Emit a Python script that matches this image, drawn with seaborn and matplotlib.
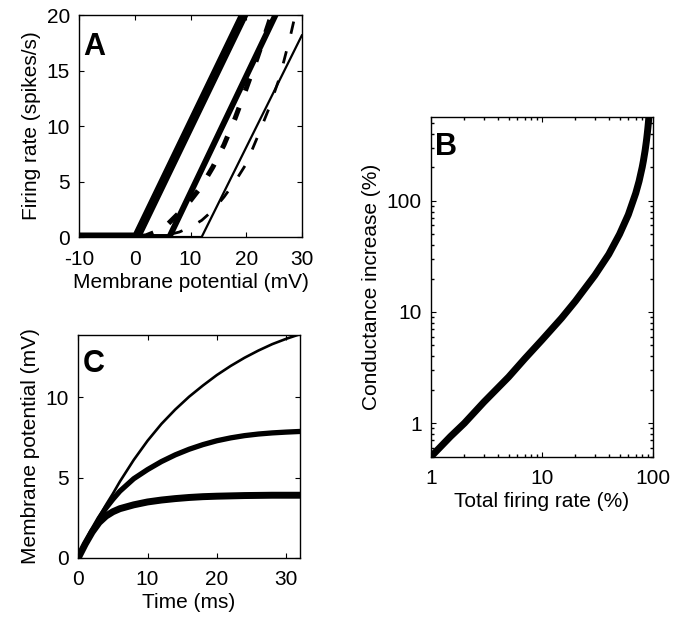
import numpy as np
import pandas as pd
import matplotlib
matplotlib.use("Agg")
import matplotlib.pyplot as plt
import seaborn as sns
from matplotlib.ticker import NullFormatter, LogLocator

sns.set_theme(style="ticks")
plt.rcParams['font.family'] = ['Liberation Sans', 'DejaVu Sans']
plt.rcParams.update({
    'xtick.direction': 'in', 'ytick.direction': 'in',
    'xtick.top': True, 'ytick.right': True,
    'xtick.major.size': 3.5, 'ytick.major.size': 3.5,
    'xtick.minor.size': 2, 'ytick.minor.size': 2,
    'xtick.major.width': 0.8, 'ytick.major.width': 0.8,
    'axes.linewidth': 1.0, 'axes.edgecolor': 'black',
    'xtick.color': 'black', 'ytick.color': 'black',
    'xtick.labelcolor': 'black', 'ytick.labelcolor': 'black',
    'text.color': 'black', 'axes.labelcolor': 'black',
    'axes.unicode_minus': False,
    'font.size': 15,
})

# ---------------- Panel A data ----------------
a_thick_v = [-10, 0.3, 30]
a_thick_r = [0, 0, 30.9]
a_med_v = [-10, 6.2, 30]
a_med_r = [0, 0, 25.0]
a_thin_v = [-10, 12.0, 30]
a_thin_r = [0, 0, 18.2]
a_dash_thick_v = [-10, 0, 2, 4, 6, 8, 10, 12, 14, 16, 18, 20, 22, 24, 25, 26]
a_dash_thick_r = [0, 0, 0.1, 0.5, 1.2, 2.2, 3.3, 4.6, 6.3, 8.3, 10.7, 13.4, 16.2, 19.2, 20.8, 22.4]
a_dash_thin_v = [-10, 0, 3, 6, 8, 10, 12, 14, 16, 18, 20, 22, 24, 26, 28, 29, 30]
a_dash_thin_r = [0, 0, 0.05, 0.2, 0.45, 0.9, 1.5, 2.4, 3.6, 5.0, 6.6, 9.0, 11.5, 14.4, 18.3, 20.5, 22.7]

# ---------------- Panel B data ----------------
b_rate = [1, 1.5, 2, 3, 5, 7, 10, 15, 20, 30, 40, 50, 60, 70, 75, 80, 82, 85, 87, 88, 89, 90, 91, 92]
b_cond = [0.5, 0.76, 1.0, 1.55, 2.6, 3.8, 5.6, 8.8, 12.5, 21.4, 33, 50, 75, 117, 150, 200, 228, 283, 335, 367, 405, 450, 505, 575]

# ---------------- Panel C data ----------------
c_t = [0, 1, 2, 3, 4, 5, 6, 8, 10, 12, 14, 16, 18, 20, 22, 24, 26, 28, 30, 32]
c_thin = [0, 0.9, 1.75, 2.55, 3.3, 4.0, 4.75, 6.1, 7.3, 8.35, 9.25, 10.05, 10.75, 11.4, 11.97, 12.48, 12.93, 13.33, 13.66, 13.95]
c_med = [0, 0.88, 1.7, 2.45, 3.1, 3.65, 4.15, 4.93, 5.5, 6.0, 6.42, 6.77, 7.06, 7.3, 7.48, 7.62, 7.72, 7.79, 7.84, 7.88]
c_thick = [0, 0.85, 1.6, 2.2, 2.6, 2.87, 3.06, 3.3, 3.48, 3.6, 3.69, 3.76, 3.81, 3.84, 3.86, 3.88, 3.89, 3.9, 3.9, 3.9]

fig = plt.figure(figsize=(6.83, 6.19), dpi=100)
axA = fig.add_axes([0.1157, 0.6171, 0.3265, 0.3586])
axB = fig.add_axes([0.631, 0.2622, 0.325, 0.5493])
axC = fig.add_axes([0.1146, 0.099, 0.3246, 0.3598])

k = dict(color='black', legend=False, sort=False, estimator=None)

# Panel A
sns.lineplot(x=a_thick_v, y=a_thick_r, ax=axA, linewidth=6.5, **k)
sns.lineplot(x=a_med_v, y=a_med_r, ax=axA, linewidth=4.3, **k)
sns.lineplot(x=a_thin_v, y=a_thin_r, ax=axA, linewidth=1.6, **k)
sns.lineplot(x=a_dash_thick_v, y=a_dash_thick_r, ax=axA, linewidth=3.6,
             linestyle=(0, (2.6, 3.6)), **k)
sns.lineplot(x=a_dash_thin_v, y=a_dash_thin_r, ax=axA, linewidth=2.0,
             linestyle=(0, (4.5, 6.5)), **k)
axA.set_xlim(-10, 30)
axA.set_ylim(0, 20)
axA.set_xticks([-10, 0, 10, 20, 30])
axA.set_yticks([0, 5, 10, 15, 20])
axA.set_xlabel('Membrane potential (mV)')
axA.set_ylabel('Firing rate (spikes/s)')
axA.text(0.018, 0.925, 'A', transform=axA.transAxes, ha='left', va='top',
         fontsize=22, fontweight='bold')

# Panel B
sns.lineplot(x=b_rate, y=b_cond, ax=axB, linewidth=5.0, **k)
axB.set_xscale('log')
axB.set_yscale('log')
axB.set_xlim(1, 100)
axB.set_ylim(0.5, 570)
axB.set_xticks([1, 10, 100])
axB.set_xticklabels(['1', '10', '100'])
axB.set_yticks([1, 10, 100])
axB.set_yticklabels(['1', '10', '100'])
axB.xaxis.set_minor_locator(LogLocator(base=10, subs=np.arange(2, 10)))
axB.yaxis.set_minor_locator(LogLocator(base=10, subs=np.arange(2, 10)))
axB.xaxis.set_minor_formatter(NullFormatter())
axB.yaxis.set_minor_formatter(NullFormatter())
axB.tick_params(which='minor', direction='in', top=True, right=True)
axB.set_xlabel('Total firing rate (%)')
axB.set_ylabel('Conductance increase (%)')
axB.text(0.018, 0.955, 'B', transform=axB.transAxes, ha='left', va='top',
         fontsize=22, fontweight='bold')

# Panel C
sns.lineplot(x=c_t, y=c_thin, ax=axC, linewidth=1.9, **k)
sns.lineplot(x=c_t, y=c_med, ax=axC, linewidth=3.8, **k)
sns.lineplot(x=c_t, y=c_thick, ax=axC, linewidth=5.0, **k)
axC.set_xlim(0, 32)
axC.set_ylim(0, 13.9)
axC.set_xticks([0, 10, 20, 30])
axC.set_yticks([0, 5, 10])
axC.set_xlabel('Time (ms)')
axC.set_ylabel('Membrane potential (mV)')
axC.text(0.018, 0.935, 'C', transform=axC.transAxes, ha='left', va='top',
         fontsize=22, fontweight='bold')

for ax in (axA, axB, axC):
    ax.tick_params(axis='x', labelsize=15, pad=9)
    ax.tick_params(axis='y', labelsize=15, pad=6.5)
    ax.xaxis.label.set_size(15)
    ax.yaxis.label.set_size(15)
    ax.xaxis.labelpad = 3
    ax.yaxis.labelpad = 4
    for s in ax.spines.values():
        s.set_visible(True)

fig.savefig('out.png', dpi=100, facecolor='white')
